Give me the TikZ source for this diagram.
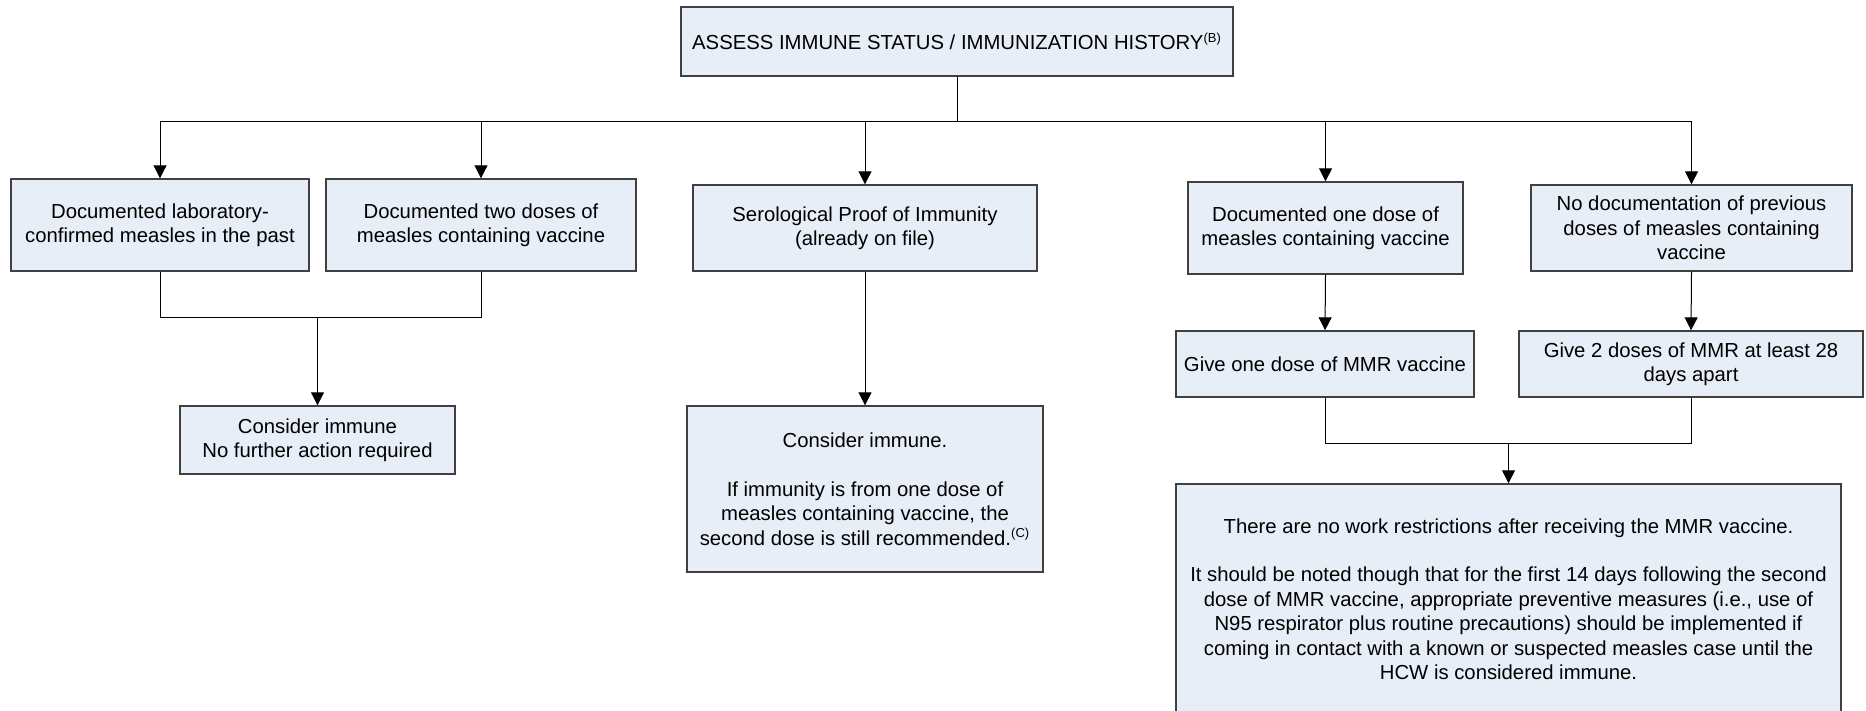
\documentclass[tikz,border=0pt]{standalone}
\usepackage{fontspec}
\setmainfont{Liberation Sans}
\usetikzlibrary{arrows.meta}
\definecolor{boxfill}{RGB}{232,238,247}
\definecolor{boxline}{RGB}{64,64,64}
\tikzset{
  flowbox/.style={draw=boxline, line width=0.7pt, fill=boxfill, align=center,
    inner sep=2pt, font=\fontsize{10.15}{12.2}\selectfont},
  conn/.style={draw=black, line width=0.5pt},
  arr/.style={conn, -{Triangle[length=6.5pt,width=6.5pt]}}
}
\begin{document}
\begin{tikzpicture}[x=0.5pt,y=-0.5pt]
\useasboundingbox (0,0) rectangle (1866,711);

\node[flowbox, minimum width=276pt, minimum height=34.5pt] (top) at (957,41.5)
  {ASSESS IMMUNE STATUS / IMMUNIZATION HISTORY\textsuperscript{\fontsize{6.5}{7}\selectfont (B)}};

\node[flowbox, minimum width=149pt, minimum height=46pt] (b1) at (160,225)
  {Documented laboratory-\\confirmed measles in the past};
\node[flowbox, minimum width=155pt, minimum height=46pt] (b2) at (481,225)
  {Documented two doses of\\measles containing vaccine};
\node[flowbox, minimum width=172pt, minimum height=43pt] (b3) at (865,228)
  {Serological Proof of Immunity\\(already on file)};
\node[flowbox, minimum width=137.5pt, minimum height=46pt] (b4) at (1325.5,228)
  {Documented one dose of\\measles containing vaccine};
\node[flowbox, minimum width=160.5pt, minimum height=43pt] (b5) at (1691.5,228)
  {No documentation of previous\\doses of measles containing\\vaccine};

\node[flowbox, minimum width=149pt, minimum height=33pt] (b6) at (1325,364)
  {Give one dose of MMR vaccine};
\node[flowbox, minimum width=172pt, minimum height=33pt] (b7) at (1691,364)
  {Give 2 doses of MMR at least 28\\days apart};

\node[flowbox, minimum width=137.5pt, minimum height=34pt] (c1) at (317.5,440)
  {Consider immune\\No further action required};
\node[flowbox, minimum width=178pt, minimum height=83pt] (c2) at (865,489)
  {Consider immune.\\[12.2pt]If immunity is from one dose of\\measles containing vaccine, the\\second dose is still recommended.\textsuperscript{\fontsize{6.5}{7}\selectfont (C)}};

\node[flowbox, minimum width=332.5pt, minimum height=115pt] (big) at (1508.5,599)
  {There are no work restrictions after receiving the MMR vaccine.\\[12.2pt]
   It should be noted though that for the first 14 days following the second\\
   dose of MMR vaccine, appropriate preventive measures (i.e., use of\\
   N95 respirator plus routine precautions) should be implemented if\\
   coming in contact with a known or suspected measles case until the\\
   HCW is considered immune.};

\coordinate (bus) at (957,122);
\coordinate (j1) at (317.5,317);
\coordinate (j2) at (1508.5,443);

\draw[conn] (top.south) -- (bus);
\draw[arr] (bus) -| (b1.north);
\draw[arr] (bus) -| (b2.north);
\draw[arr] (bus) -| (b3.north);
\draw[arr] (bus) -| (b4.north);
\draw[arr] (bus) -| (b5.north);

\draw[conn] (b1.south) |- (j1);
\draw[conn] (b2.south) |- (j1);
\draw[arr] (j1) -- (c1.north);

\draw[arr] (b3.south) -- (c2.north);

\draw[arr] (b4.south) -- (b6.north);
\draw[arr] (b5.south) -- (b7.north);
\draw[conn] (b6.south) |- (j2);
\draw[conn] (b7.south) |- (j2);
\draw[arr] (j2) -- (big.north);
\end{tikzpicture}
\end{document}
